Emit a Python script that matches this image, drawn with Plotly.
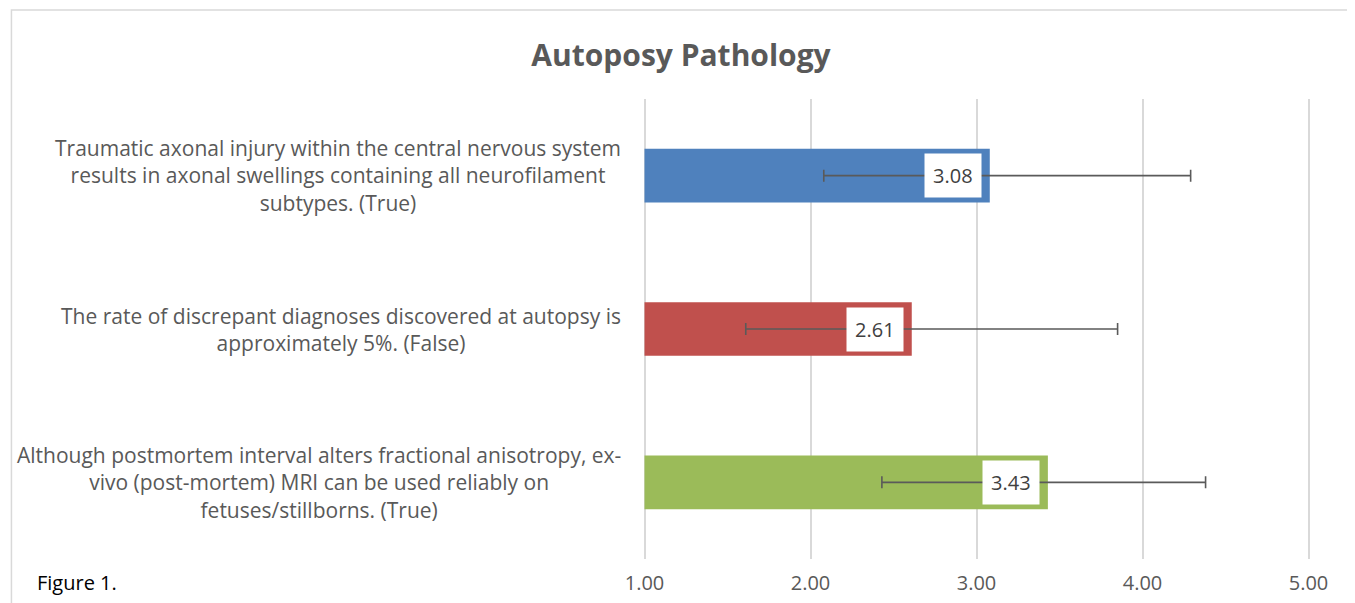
"""
Autoposy Pathology - horizontal bar chart with error bars
"""

import plotly.graph_objects as go

# Data (top to bottom)
categories = [
    "Traumatic axonal injury within the central nervous system<br>results in axonal swellings containing all neurofilament<br>subtypes. (True)",
    "The rate of discrepant diagnoses discovered at autopsy is<br>approximately 5%. (False)",
    "Although postmortem interval alters fractional anisotropy, ex-<br>vivo (post-mortem) MRI can be used reliably on<br>fetuses/stillborns. (True)",
]
means = [3.08, 2.61, 3.43]
err_plus = [1.21, 1.24, 0.95]
err_minus = [1.00, 1.00, 1.00]
bar_colors = ["#4f81bd", "#c0504d", "#9bbb59"]
tick_values = [1, 2, 3, 4, 5]
axis_min = 1  # bars start at the axis minimum, like Excel

FONT = "Open Sans"
GRAY = "#595959"

# the page body adds an 8px margin, so work in page pixels and shift back
OFF = 8
PAD = 2.5  # a little room so the 1.00 / 5.00 grid lines are drawn
W, H = 1355, 603
L = 644 - OFF - PAD
R = 1355 - (1309 - OFF + PAD)
T, B = 99 - OFF, 603 - (559 - OFF)
pw, ph = W - L - R, H - T - B
unit = (1309 - 644) / 4
xpad = PAD / unit


def px_x(x):
    return (x - OFF - L) / pw


def px_y(y):
    return (H - B - (y - OFF)) / ph


fig = go.Figure()

fig.add_trace(
    go.Bar(
        x=[m - axis_min for m in means],
        y=categories,
        base=axis_min,
        orientation="h",
        marker=dict(color=bar_colors, line=dict(width=0)),
        error_x=dict(
            type="data",
            symmetric=False,
            array=err_plus,
            arrayminus=err_minus,
            color="#5a5a5a",
            thickness=1.6,
            width=6,
        ),
        customdata=means,
        hovertemplate="%{y}<br>%{customdata:.2f}<extra></extra>",
        showlegend=False,
    )
)

# value labels in white boxes, sitting just inside the bar end
for cat, val in zip(categories, means):
    fig.add_annotation(
        x=val,
        y=cat,
        text=f"{val:.2f}",
        showarrow=False,
        xanchor="right",
        xshift=-8,
        bgcolor="white",
        borderpad=8,
        font=dict(family=FONT, size=20, color="#404040"),
    )

# category labels, lines centred like Excel does
for cat in categories:
    fig.add_annotation(
        x=px_x(622),
        xref="paper",
        y=cat,
        text=cat,
        showarrow=False,
        xanchor="right",
        align="center",
        font=dict(family=FONT, size=21, color=GRAY),
    )

fig.add_annotation(
    x=px_x(34),
    xref="paper",
    y=px_y(582),
    yref="paper",
    text="Figure 1.",
    showarrow=False,
    xanchor="left",
    yanchor="middle",
    font=dict(family=FONT, size=20, color="black"),
)

# outer chart border
fig.add_shape(
    type="rect",
    xref="paper",
    yref="paper",
    x0=px_x(10),
    x1=px_x(1353),
    y0=px_y(640),
    y1=px_y(10),
    line=dict(color="#d9d9d9", width=1.5),
    fillcolor="rgba(0,0,0,0)",
    layer="below",
)

fig.update_layout(
    width=W,
    height=H,
    margin=dict(l=L, r=R, t=T, b=B),
    paper_bgcolor="white",
    plot_bgcolor="white",
    bargap=0.65,
    title=dict(
        text="<b>Autoposy Pathology</b>",
        x=(681 - OFF) / W,
        xref="container",
        xanchor="center",
        y=1 - (55 - OFF) / H,
        yref="container",
        yanchor="middle",
        font=dict(family=FONT, size=30, color=GRAY),
    ),
    xaxis=dict(
        range=[1 - xpad, 5 + xpad],
        tickvals=tick_values,
        tickformat=".2f",
        showgrid=True,
        gridcolor="#d9d9d9",
        gridwidth=1.5,
        zeroline=False,
        showline=False,
        ticks="",
        ticklabelstandoff=10,
        tickfont=dict(family=FONT, size=20, color=GRAY),
    ),
    yaxis=dict(
        autorange="reversed",
        showticklabels=False,
        showgrid=False,
        zeroline=False,
        showline=False,
        ticks="",
    ),
)

fig.write_html("out.html")
